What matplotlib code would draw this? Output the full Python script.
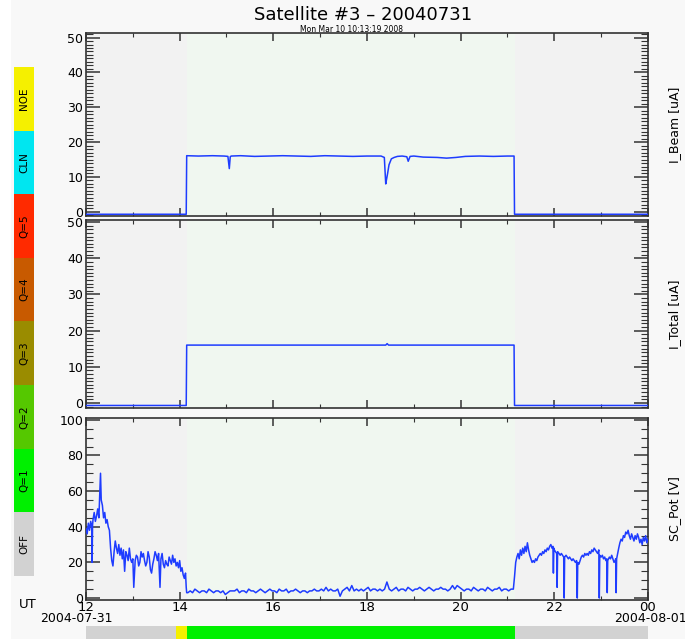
import numpy as np
import matplotlib
matplotlib.use("Agg")
import matplotlib.pyplot as plt
from matplotlib.patches import Rectangle
from matplotlib.ticker import MultipleLocator

# ---------------- data ----------------
title = "Satellite #3 \u2013 20040731"
subtitle = "Mon Mar 10 10:13:19 2008"
panel_labels = ["I_Beam [uA]", "I_Total [uA]", "SC_Pot [V]"]
xtick_hours = [12, 14, 16, 18, 20, 22, 24]
xtick_labels = ["12", "14", "16", "18", "20", "22", "00"]
date_labels = ["2004-07-31", "2004-08-01"]

# Status color bar (legend on the left)
status_names = ["NOE", "CLN", "Q=5", "Q=4", "Q=3", "Q=2", "Q=1", "OFF"]
status_colors = ["#f5f000", "#00e6f0", "#ff2a00", "#c85a00", "#9a8c00", "#55c800", "#00f000", "#d2d2d2"]

# Status timeline (bottom bar): start hour, end hour, status
status_start = [12.0, 13.92, 14.15, 21.15]
status_end = [13.92, 14.15, 21.15, 24.0]
status_code = ["OFF", "NOE", "Q=1", "OFF"]

# Shaded active interval
active_start = 14.15
active_end = 21.15

# I_Beam
beam_t = [12.0, 14.14, 14.15, 14.4, 14.7, 14.95, 15.03, 15.06, 15.08, 15.1, 15.3, 15.6, 15.9,
          16.2, 16.5, 16.8, 17.1, 17.4, 17.7, 18.0, 18.3, 18.37, 18.40, 18.42, 18.44, 18.47,
          18.52, 18.58, 18.65, 18.75, 18.85, 18.88, 18.92, 19.0, 19.2, 19.5, 19.7, 19.9,
          20.1, 20.4, 20.7, 21.0, 21.14, 21.15, 24.0]
beam_v = [-0.7, -0.7, 16.1, 16.0, 16.1, 16.0, 15.9, 12.4, 15.8, 16.0, 16.1, 15.9, 16.0,
          16.1, 16.0, 15.9, 16.1, 16.0, 15.9, 16.0, 16.0, 15.6, 8.0, 9.5, 11.0, 13.5,
          15.2, 15.6, 15.9, 16.0, 15.8, 14.5, 15.9, 16.0, 15.7, 15.6, 15.4, 15.6,
          15.9, 16.0, 15.9, 16.0, 16.0, -0.7, -0.7]

# I_Total
total_t = [12.0, 14.14, 14.15, 16.0, 18.0, 18.40, 18.43, 18.46, 20.0, 21.14, 21.15, 24.0]
total_v = [-0.7, -0.7, 16.0, 16.0, 16.0, 16.0, 16.4, 16.0, 16.0, 16.0, -0.7, -0.7]

# SC_Pot, before the active interval
pot_a_t = [12.0, 12.025, 12.05, 12.075, 12.1, 12.125, 12.13, 12.14, 12.15, 12.175, 12.2, 12.225,
           12.25, 12.275, 12.3, 12.31, 12.325, 12.35, 12.375, 12.4, 12.425, 12.45, 12.475,
           12.5, 12.525, 12.55, 12.575, 12.6, 12.625, 12.65, 12.675, 12.7, 12.725, 12.75,
           12.775, 12.8, 12.825, 12.85, 12.875, 12.9, 12.925, 12.95, 12.975, 13.0, 13.02,
           13.05, 13.075, 13.1, 13.125, 13.15, 13.175, 13.2, 13.225, 13.25, 13.275, 13.3,
           13.325, 13.35, 13.375, 13.4, 13.425, 13.45, 13.475, 13.5, 13.525, 13.55, 13.58,
           13.6, 13.625, 13.65, 13.675, 13.7, 13.725, 13.75, 13.775, 13.8, 13.825, 13.85,
           13.875, 13.9, 13.925, 13.95, 13.975, 14.0, 14.025, 14.05, 14.075, 14.1, 14.125,
           14.14, 14.15]
pot_a = [39, 36, 42, 38, 43, 40, 20, 41, 44, 48, 43, 46,
         50, 45, 62, 70, 55, 52, 45, 48, 42, 44, 40,
         38, 28, 21, 18, 26, 32, 28, 25, 30, 24, 28,
         22, 27, 15, 26, 24, 21, 28, 22, 20, 22, 6,
         21, 24, 23, 18, 20, 26, 23, 25, 21, 18, 20,
         26, 23, 16, 14, 19, 22, 26, 24, 21, 25, 6,
         22, 25, 19, 17, 21, 19, 18, 23, 21, 19, 24,
         20, 22, 18, 20, 17, 21, 15, 17, 13, 11, 14,
         6, 3]

# SC_Pot, active interval (sampled every 0.05 h from 14.175 h)
pot_b_start = 14.175
pot_b_step = 0.05
pot_b = [3, 4, 3, 5, 4, 3, 4, 4, 3, 5,
         4, 3, 4, 4, 3, 4, 2, 3, 4, 4,
         4, 5, 3, 4, 4, 3, 5, 4, 4, 3,
         4, 5, 4, 3, 4, 5, 4, 4, 3, 5,
         4, 4, 5, 3, 4, 4, 5, 4, 3, 4,
         4, 3, 4, 4, 5, 4, 4, 5, 4, 6,
         4, 5, 4, 4, 5, 1, 4, 5, 6, 4,
         7, 4, 5, 4, 5, 4, 5, 6, 4, 5,
         5, 4, 5, 4, 5, 9, 5, 4, 5, 6,
         4, 5, 5, 4, 6, 5, 4, 5, 5, 6,
         5, 4, 5, 6, 5, 4, 5, 5, 6, 5,
         5, 4, 5, 7, 5, 7, 6, 5, 4, 5,
         5, 4, 6, 5, 4, 5, 5, 4, 6, 5,
         4, 5, 5, 6, 4, 5, 5, 4, 5, 5]

# SC_Pot, after the active interval
pot_c_t = [21.15, 21.175, 21.2, 21.225, 21.25, 21.275, 21.3, 21.325, 21.35, 21.375, 21.4,
           21.425, 21.45, 21.475, 21.5, 21.525, 21.55, 21.575, 21.6, 21.625, 21.65, 21.675,
           21.7, 21.725, 21.75, 21.775, 21.8, 21.825, 21.85, 21.875, 21.9, 21.925, 21.95,
           21.97, 21.98, 21.99, 22.0, 22.025, 22.05, 22.06, 22.07, 22.1, 22.125, 22.15,
           22.175, 22.2, 22.21, 22.22, 22.25, 22.275, 22.3, 22.325, 22.35, 22.375, 22.4,
           22.425, 22.45, 22.475, 22.49, 22.5, 22.525, 22.55, 22.575, 22.6, 22.625, 22.65,
           22.675, 22.7, 22.725, 22.75, 22.775, 22.8, 22.825, 22.85, 22.875, 22.9, 22.925,
           22.95, 22.96, 22.97, 23.0, 23.025, 23.05, 23.075, 23.1, 23.12, 23.13, 23.14,
           23.175, 23.2, 23.225, 23.25, 23.275, 23.3, 23.31, 23.32, 23.33, 23.36, 23.375,
           23.4, 23.425, 23.45, 23.475, 23.5, 23.525, 23.55, 23.575, 23.6, 23.625, 23.65,
           23.675, 23.7, 23.725, 23.75, 23.775, 23.8, 23.825, 23.85, 23.875, 23.9, 23.925,
           23.95, 23.975, 24.0]
pot_c = [12, 20, 23, 25, 22, 27, 24, 28, 25, 29, 26,
         31, 27, 24, 22, 20, 21, 20, 22, 21, 23, 24,
         25, 24, 26, 25, 27, 26, 28, 27, 29, 30, 28,
         29, 14, 28, 27, 26, 25, 6, 26, 25, 24, 25,
         24, 23, 0, 23, 24, 23, 22, 23, 22, 21, 22,
         21, 20, 21, 0, 20, 19, 21, 23, 24, 23, 25,
         24, 25, 24, 26, 25, 27, 26, 28, 27, 26, 25,
         27, 0, 24, 23, 24, 22, 23, 21, 22, 3, 21,
         23, 22, 24, 22, 20, 21, 22, 3, 22, 26, 28,
         31, 33, 32, 35, 34, 37, 36, 38, 35, 33, 36,
         34, 32, 35, 33, 36, 34, 31, 33, 30, 34, 32,
         35, 31, 33]

# ---------------- figure ----------------
W, H = 685, 639
fig = plt.figure(figsize=(W / 100, H / 100), dpi=100, facecolor="white")
fig.patches.append(Rectangle((11 / W, 0), 1 - 11 / W, 1, transform=fig.transFigure,
                             facecolor="#f8f8f8", edgecolor="none", zorder=-10))

def fx(px):
    return px / W

def fy(py):
    return 1 - py / H

left, right = 86, 648
panels = [(33, 216), (220, 408), (418, 600)]
ylims = [(-1.2, 51.3), (-1.4, 50.6), (-1.1, 101)]
line_color = "#1e3cff"
axes = []
for i, (top, bot) in enumerate(panels):
    ax = fig.add_axes([fx(left), fy(bot), fx(right - left), (bot - top) / H])
    ax.set_facecolor("#f2f2f2")
    ax.set_xlim(12, 24)
    ax.set_ylim(*ylims[i])
    ax.axvspan(active_start, active_end, color="#f0f7f0", zorder=0, lw=0)
    for s in ax.spines.values():
        s.set_color("#333333")
        s.set_linewidth(1.2)
    ax.xaxis.set_major_locator(MultipleLocator(2))
    ax.xaxis.set_minor_locator(MultipleLocator(1))
    if i < 2:
        ax.yaxis.set_major_locator(MultipleLocator(10))
        ax.yaxis.set_minor_locator(MultipleLocator(1))
    else:
        ax.yaxis.set_major_locator(MultipleLocator(20))
        ax.yaxis.set_minor_locator(MultipleLocator(5))
    ax.tick_params(which="both", direction="in", top=True, right=True, colors="#333333",
                   labelcolor="black", labelsize=9, pad=2)
    ax.tick_params(which="major", length=10, width=1.1)
    ax.tick_params(which="minor", length=5, width=0.8)
    ax.tick_params(axis="x", which="major", length=6, pad=0.5, labelsize=9.5)
    ax.tick_params(axis="x", which="minor", length=3)
    ax.set_xticks(xtick_hours)
    if i < 2:
        ax.set_xticklabels([])
    else:
        ax.set_xticklabels(xtick_labels)
    fig.text(fx(675), fy((top + bot) / 2), panel_labels[i], rotation=90,
             ha="center", va="center", fontsize=9)
    axes.append(ax)

axes[0].plot(beam_t, beam_v, color=line_color, lw=1.1, zorder=3)
axes[1].plot(total_t, total_v, color=line_color, lw=1.1, zorder=3)
pot_b_t = pot_b_start + pot_b_step * np.arange(len(pot_b))
pot_t = list(pot_a_t) + list(pot_b_t) + list(pot_c_t)
pot_v = list(pot_a) + list(pot_b) + list(pot_c)
axes[2].plot(pot_t, pot_v, color=line_color, lw=1.1, zorder=3)

# date labels under end ticks
fig.text(fx(76), fy(619), date_labels[0], ha="center", va="center", fontsize=9)
fig.text(fx(650), fy(619), date_labels[1], ha="center", va="center", fontsize=9)
fig.text(fx(28), fy(605), "UT", ha="center", va="center", fontsize=9.5)

# titles
fig.text(fx(363), fy(15), title, ha="center", va="center", fontsize=13)
fig.text(fx(352), fy(30), subtitle, ha="center", va="center", fontsize=5.5)

# left status color bar
seg_top = 67
seg_h = 63.6
for k, (name, col) in enumerate(zip(status_names, status_colors)):
    y0 = seg_top + k * seg_h
    fig.patches.append(Rectangle((fx(14), fy(y0 + seg_h)), fx(20), seg_h / H,
                                 transform=fig.transFigure, facecolor=col, edgecolor="none"))
    fig.text(fx(24), fy(y0 + seg_h / 2), name, rotation=90, ha="center", va="center",
             fontsize=7.5)

# bottom status timeline
code_color = dict(zip(status_names, status_colors))
bar = fig.add_axes([fx(left), 0, fx(right - left), 13 / H])
bar.set_xlim(12, 24)
bar.set_ylim(0, 1)
bar.axis("off")
for s0, s1, c in zip(status_start, status_end, status_code):
    bar.axvspan(s0, s1, color=code_color[c], lw=0)

fig.savefig("out.png", dpi=100, facecolor=fig.get_facecolor())
